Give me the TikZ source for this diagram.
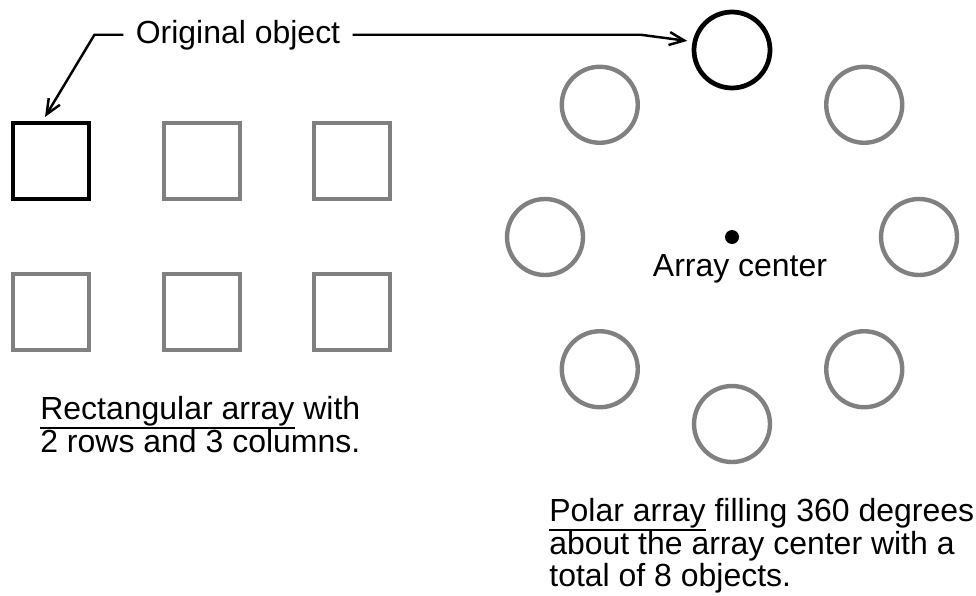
\documentclass[tikz,border=0pt]{standalone}
\usepackage{fontspec}
\setmainfont{Liberation Sans}
\usetikzlibrary{arrows.meta}
\newcommand\undl[1]{\setbox0\hbox{#1}\rlap{\rule[-0.29em]{\wd0}{0.06em}}\box0\relax}

\begin{document}
\begin{tikzpicture}[x=0.02cm, y=-0.02cm, >={Straight Barb[length=0.3cm, width=0.26cm]},
  txt/.style={inner sep=0pt, font=\fontsize{18.2}{18.6}\selectfont},
  sq/.style={rectangle, draw=gray, line width=2.3pt, minimum size=1.52cm, inner sep=0pt},
  sqorig/.style={sq, draw=black, line width=2.6pt},
  ring/.style={circle, draw=gray, line width=2.5pt, minimum size=1.52cm, inner sep=0pt},
  ringorig/.style={ring, draw=black, line width=2.7pt},
  callout/.style={->, line width=1.4pt, draw=black}
]
\useasboundingbox (0,0) rectangle (976,595);

% rectangular array
\foreach \r/\y in {1/161, 2/312}
  \foreach \c/\x in {1/51, 2/202, 3/352}
    \node[sq] (sq\r\c) at (\x,\y) {};
\node[sqorig] at (sq11) {};

% polar array
\node[circle, fill=black, minimum size=0.28cm, inner sep=0pt] (ctr) at (732,237) {};
\foreach \i in {1,...,7}
  \node[ring] (c\i) at ({732+187*cos(90-45*\i)},{237-187*sin(90-45*\i)}) {};
\node[ringorig] (c0) at (732,50) {};
\node[txt, anchor=base] (ctrlbl) at (740,276) {Array center};

% callout
\node[txt, anchor=base, inner xsep=0.24cm] (lbl) at (238,43) {Original object};
\draw[callout] (lbl.west) -- ++(-29,0) -- ([xshift=-0.12cm, yshift=0.08cm]sq11.north);
\draw[callout, shorten >=3pt] (lbl.east) -- ++(288,0) -- (c0.168);

% captions
\node[txt, anchor=north west, align=left] (rectcap) at (40,396)
  {\undl{Rectangular array} with\\2 rows and 3 columns.};
\node[txt, anchor=north west, align=left] (polcap) at (549,498)
  {\undl{Polar array} filling 360 degrees\\about the array center with a\\total of 8 objects.};
\end{tikzpicture}
\end{document}
